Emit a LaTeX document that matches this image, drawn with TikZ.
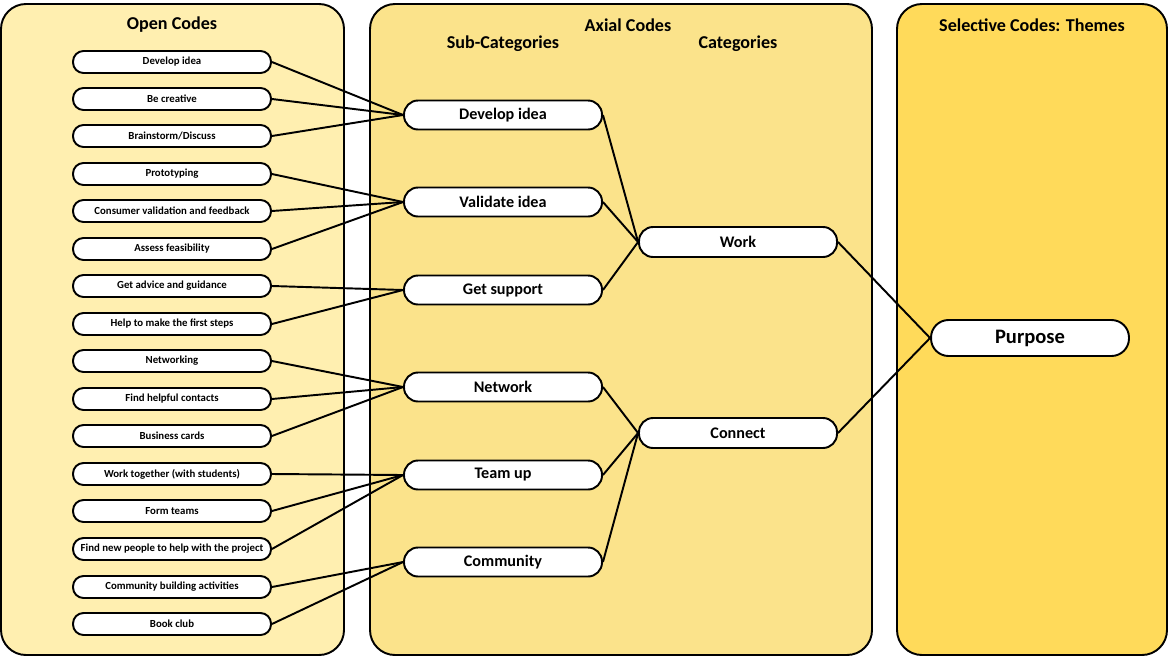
\documentclass[tikz,border=0pt]{standalone}
\usepackage{fontspec}
\setmainfont{Carlito}
\definecolor{copen}{HTML}{FFEFB0}
\definecolor{caxial}{HTML}{FBE38B}
\definecolor{csel}{HTML}{FFDA5A}
\begin{document}
\begin{tikzpicture}[x=0.02cm,y=-0.02cm,
  panel/.style={draw=black,line width=1.1pt,rounded corners=0.5cm},
  codebox/.style={draw=black,fill=white,line width=1.1pt,rounded corners=0.21cm,minimum width=3.96cm,minimum height=0.44cm,inner sep=0pt,font=\fontsize{6.15}{7}\selectfont\bfseries},
  subbox/.style={draw=black,fill=white,line width=1.1pt,rounded corners=0.28cm,minimum width=3.96cm,minimum height=0.58cm,inner sep=0pt,font=\fontsize{9.2}{10}\selectfont\bfseries},
  catbox/.style={subbox,minimum height=0.6cm},
  thembox/.style={draw=black,fill=white,line width=1.1pt,rounded corners=0.35cm,minimum width=3.96cm,minimum height=0.72cm,inner sep=0pt,font=\fontsize{11.7}{13}\selectfont\bfseries},
  title/.style={font=\fontsize{10.3}{12}\selectfont\bfseries,inner sep=0pt},
  link/.style={draw=black,line width=1.1pt}]
\useasboundingbox (0,0) rectangle (1169,656);
\draw[panel,fill=copen] (1,4) rectangle (344,655);
\draw[panel,fill=caxial] (370,4) rectangle (872,655);
\draw[panel,fill=csel] (897,4) rectangle (1167,655);
\node[title] (t1) at (172,25) {Open Codes};
\node[title] (t2) at (628,25) {Axial Codes};
\node[title] (t3) at (503,44) {Sub-Categories};
\node[title] (t4) at (738,44) {Categories};
\node[title] (t5) at (1032,25) {Selective Codes: Themes};
\foreach \n/\y/\t in {1/62/Develop idea,2/99/Be creative,3/136/Brainstorm\slash Discuss,4/174/Prototyping,
  5/211/Consumer validation and feedback,6/249/Assess feasibility,7/286/Get advice and guidance,
  8/324/Help to make the first steps,9/361/Networking,10/399/Find helpful contacts,11/436/Business cards,
  12/474/Work together (with students),13/511/Form teams,14/549/Find new people to help with the project,
  15/587/Community building activities,16/624/Book club}
  \node[codebox] (o\n) at (172,\y) {\t};
\node[subbox] (s1) at (503,115) {Develop idea};
\node[subbox] (s2) at (503,202) {Validate idea};
\node[subbox] (s3) at (503,290) {Get support};
\node[subbox] (s4) at (503,387) {Network};
\node[subbox] (s5) at (503,475) {Team up};
\node[subbox] (s6) at (503,562) {Community};
\node[catbox] (c1) at (738,242) {Work};
\node[catbox] (c2) at (738,433) {Connect};
\node[thembox] (p) at (1030,338) {Purpose};
\foreach \a/\b in {1/1,2/1,3/1,4/2,5/2,6/2,7/3,8/3,9/4,10/4,11/4,12/5,13/5,14/5,15/6,16/6}
  \draw[link] (o\a.east) -- (s\b.west);
\foreach \a/\b in {1/1,2/1,3/1,4/2,5/2,6/2}
  \draw[link] (s\a.east) -- (c\b.west);
\draw[link] (c1.east) -- (p.west);
\draw[link] (c2.east) -- (p.west);
\end{tikzpicture}
\end{document}
